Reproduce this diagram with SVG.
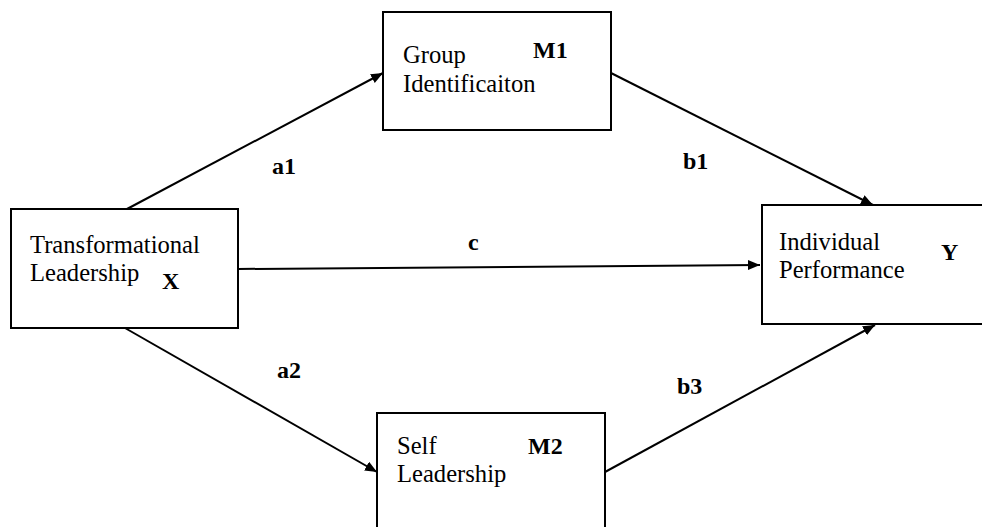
<svg xmlns="http://www.w3.org/2000/svg" width="982" height="527" viewBox="0 0 982 527">
<style>
text{font-family:"Liberation Serif","Times New Roman",serif;font-size:24.6px;fill:#000}
.b{font-weight:bold;font-size:24px}
.box{fill:#fff;stroke:#000;stroke-width:2}
.edge{stroke:#000;stroke-width:2;fill:none;marker-end:url(#arr)}
</style>
<defs>
<marker id="arr" markerUnits="userSpaceOnUse" markerWidth="13" markerHeight="11" refX="12" refY="5" orient="auto">
<path d="M0,0 L12,5 L0,10 z" fill="#000"/>
</marker>
</defs>
<rect width="982" height="527" fill="#fff"/>
<g id="connectors">
<line class="edge" x1="127" y1="209" x2="383" y2="73"/>
<line class="edge" x1="611" y1="73" x2="873" y2="205"/>
<line class="edge" x1="238" y1="269" x2="760" y2="265"/>
<line class="edge" x1="125" y1="328" x2="377" y2="472"/>
<line class="edge" x1="605" y1="472" x2="875" y2="325"/>
<text class="b" x="272" y="174">a1</text>
<text class="b" x="683" y="169">b1</text>
<text class="b" x="468" y="250">c</text>
<text class="b" x="277" y="378">a2</text>
<text class="b" x="677" y="394">b3</text>
</g>
<g id="nodeX">
<rect class="box" x="11" y="209" width="227" height="119"/>
<text x="30" y="253">Transformational</text>
<text x="30" y="281">Leadership</text>
<text class="b" x="162" y="289">X</text>
</g>
<g id="nodeM1">
<rect class="box" x="383" y="12" width="228" height="118"/>
<text x="403" y="63">Group</text>
<text x="403" y="92">Identificaiton</text>
<text class="b" x="533" y="58">M1</text>
</g>
<g id="nodeY">
<rect class="box" x="762" y="205" width="225" height="119"/>
<text x="779" y="250">Individual</text>
<text x="779" y="278">Performance</text>
<text class="b" x="941" y="260">Y</text>
</g>
<g id="nodeM2">
<rect class="box" x="377" y="413" width="228" height="125"/>
<text x="397" y="454">Self</text>
<text x="397" y="482">Leadership</text>
<text class="b" x="528" y="454">M2</text>
</g>
</svg>
